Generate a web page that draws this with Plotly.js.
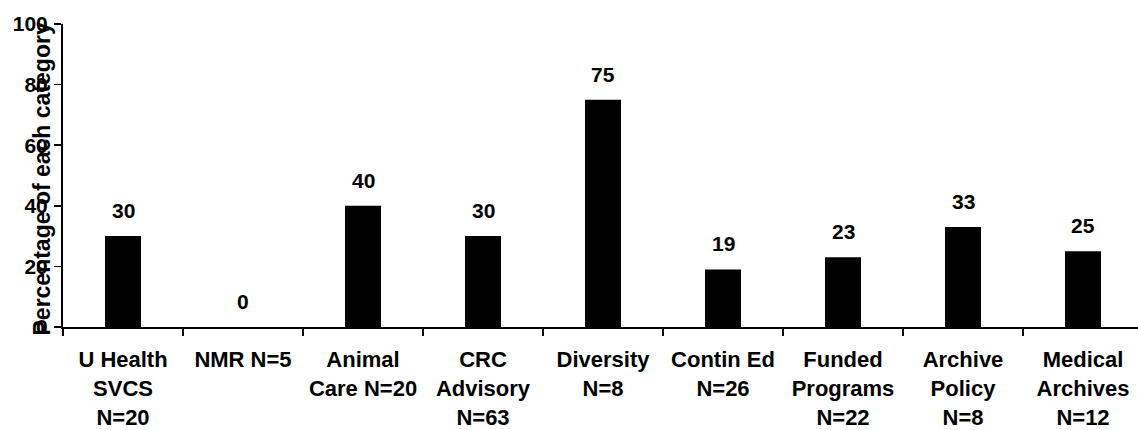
<!DOCTYPE html>
<html>
<head>
<meta charset="utf-8">
<script src="https://cdn.plot.ly/plotly-3.0.1.min.js"></script>
<style>
  html, body { margin: 0; padding: 0; background: #fff; overflow: hidden; }
  #chart { width: 1143px; height: 430px; }
</style>
</head>
<body>
<div id="chart"></div>
<script>
// Committee categories (with respondent counts) and percentage per category
const categories = [
  "U Health<br>SVCS<br>N=20",
  "NMR N=5",
  "Animal<br>Care N=20",
  "CRC<br>Advisory<br>N=63",
  "Diversity<br>N=8",
  "Contin Ed<br>N=26",
  "Funded<br>Programs<br>N=22",
  "Archive<br>Policy<br>N=8",
  "Medical<br>Archives<br>N=12"
];
const percentages = [30, 0, 40, 30, 75, 19, 23, 33, 25];
const yTicks = [0, 20, 40, 60, 80, 100];
const yTitle = "Percentage of each category";

const FONT = "'Liberation Sans', Arial, sans-serif";

const bars = {
  type: "bar",
  x: categories,
  y: percentages,
  width: 0.3,
  marker: { color: "#000000", line: { width: 0 } },
  hoverinfo: "x+y"
};

// Value labels sit above each bar
const valueLabels = categories.map((c, i) => ({
  x: c,
  y: percentages[i],
  xref: "x",
  yref: "y",
  text: String(percentages[i]),
  showarrow: false,
  yanchor: "bottom",
  yshift: 12,
  font: { family: FONT, size: 21, color: "#000", weight: "bold" }
}));

const titleAnnotation = {
  xref: "paper",
  yref: "paper",
  x: 0,
  xshift: -22,
  y: 0.5,
  yshift: -4,
  text: yTitle,
  textangle: -90,
  showarrow: false,
  xanchor: "center",
  yanchor: "middle",
  font: { family: FONT, size: 23, color: "#000", weight: "bold" }
};

const layout = {
  width: 1143,
  height: 430,
  margin: { l: 63, r: 0, t: 24, b: 103, pad: 0 },
  paper_bgcolor: "#fff",
  plot_bgcolor: "#fff",
  showlegend: false,
  font: { family: FONT, color: "#000" },
  xaxis: {
    type: "category",
    showline: true,
    linecolor: "#000",
    linewidth: 2,
    ticks: "outside",
    tickson: "boundaries",
    ticklen: 7,
    tickwidth: 1.5,
    tickcolor: "#000",
    showgrid: false,
    zeroline: false,
    tickangle: 0,
    ticklabelstandoff: 12,
    tickfont: { family: FONT, size: 22, color: "#000", weight: "bold" },
    automargin: false
  },
  yaxis: {
    range: [0, 100],
    tickvals: yTicks,
    ticktext: yTicks.map(String),
    showline: true,
    linecolor: "#000",
    linewidth: 2,
    ticks: "outside",
    ticklen: 7,
    tickwidth: 1.5,
    tickcolor: "#000",
    showgrid: false,
    zeroline: false,
    ticklabelstandoff: 2,
    tickfont: { family: FONT, size: 21, color: "#000", weight: "bold" },
    automargin: false
  },
  annotations: valueLabels.concat([titleAnnotation])
};

Plotly.newPlot("chart", [bars], layout, { displayModeBar: false, staticPlot: true });
</script>
</body>
</html>
